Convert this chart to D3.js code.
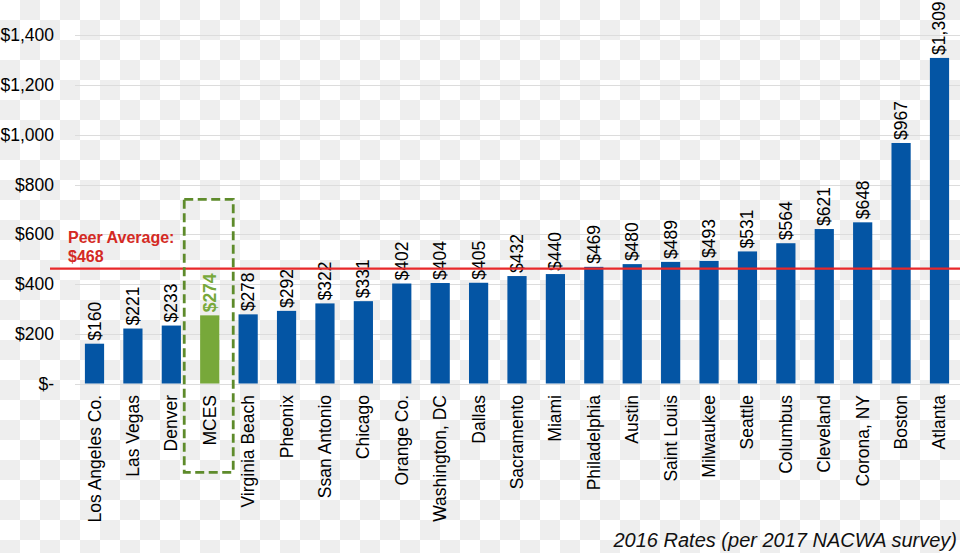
<!DOCTYPE html>
<html>
<head>
<meta charset="utf-8">
<script src="https://cdn.jsdelivr.net/npm/d3@7"></script>
<style>
  html, body { margin: 0; padding: 0; background: #fff; }
  svg { display: block; }
  text { font-family: "Liberation Sans", Arial, sans-serif; }
</style>
</head>
<body>
<svg id="chart" width="960" height="553"></svg>
<script>
// ---- data ----
const categories = ["Los Angeles Co.", "Las Vegas", "Denver", "MCES", "Virginia Beach", "Pheonix",
  "Ssan Antonio", "Chicago", "Orange Co.", "Washington, DC", "Dallas", "Sacramento", "Miami",
  "Philadelphia", "Austin", "Saint Louis", "Milwaukee", "Seattle", "Columbus", "Cleveland",
  "Corona, NY", "Boston", "Atlanta"];
const rates = [160, 221, 233, 274, 278, 292, 322, 331, 402, 404, 405, 432, 440,
  469, 480, 489, 493, 531, 564, 621, 648, 967, 1309];
const yTicks = [0, 200, 400, 600, 800, 1000, 1200, 1400];
const highlight = "MCES";
const peerAverage = 468;
const peerLabel = ["Peer Average:", "$468"];
const footnote = "2016 Rates (per 2017 NACWA survey)";

// ---- setup ----
const W = 960, H = 553;
const svg = d3.select("#chart");

// transparency checkerboard background
const defs = svg.append("defs");
const pat = defs.append("pattern").attr("id", "checker")
  .attr("width", 40).attr("height", 40).attr("patternUnits", "userSpaceOnUse");
pat.append("rect").attr("width", 40).attr("height", 40).attr("fill", "#ffffff");
pat.append("rect").attr("x", 20).attr("y", 0).attr("width", 20).attr("height", 20).attr("fill", "#eeeeee");
pat.append("rect").attr("x", 0).attr("y", 20).attr("width", 20).attr("height", 20).attr("fill", "#eeeeee");
svg.append("rect").attr("width", W).attr("height", H).attr("fill", "url(#checker)");

const x = d3.scaleBand().domain(categories).range([75.3, 958.7])
  .paddingInner(0.5).paddingOuter(0.25);
const y = d3.scaleLinear().domain([0, 1400]).range([383.5, 35.3]);

const fmt = v => v === 0 ? "$-" : "$" + d3.format(",")(v);

// gridlines
svg.append("g").selectAll("line").data(yTicks).join("line")
  .attr("x1", 75).attr("x2", W)
  .attr("y1", d => Math.round(y(d)) + 0.5).attr("y2", d => Math.round(y(d)) + 0.5)
  .attr("stroke", "#dcdcdc").attr("stroke-width", 1);

// y axis labels
const yAxis = d3.axisLeft(y).tickValues(yTicks).tickFormat(fmt).tickSize(0).tickPadding(0);
const gy = svg.append("g").attr("transform", "translate(54,0)").call(yAxis);
gy.select(".domain").remove();
gy.selectAll("text").attr("font-size", "17.5px").attr("fill", "#000")
  .attr("font-family", "'Liberation Sans', Arial, sans-serif");

// bars
svg.append("g").selectAll("rect").data(categories).join("rect")
  .attr("x", d => x(d))
  .attr("y", (d, i) => y(rates[i]))
  .attr("width", x.bandwidth())
  .attr("height", (d, i) => y(0) - y(rates[i]))
  .attr("fill", d => d === highlight ? "#77a83a" : "#0455a4");

// value labels
svg.append("g").selectAll("text").data(categories).join("text")
  .attr("transform", (d, i) => `translate(${x(d) + x.bandwidth() / 2},${y(rates[i]) - 3}) rotate(-90)`)
  .attr("text-anchor", "start")
  .attr("dominant-baseline", "central")
  .attr("font-size", "17.5px")
  .attr("font-weight", d => d === highlight ? "bold" : "normal")
  .attr("fill", d => d === highlight ? "#77a83a" : "#000")
  .text((d, i) => fmt(rates[i]));

// category labels
const xAxis = d3.axisBottom(x).tickSize(0).tickPadding(0);
const gx = svg.append("g").attr("transform", "translate(0,395)").call(xAxis);
gx.select(".domain").remove();
gx.selectAll("text")
  .attr("font-size", "17.5px").attr("fill", "#000")
  .attr("font-family", "'Liberation Sans', Arial, sans-serif")
  .attr("text-anchor", "end")
  .attr("dy", null).attr("y", 0)
  .attr("dominant-baseline", "central")
  .attr("transform", "rotate(-90)");

// peer average line
svg.append("line")
  .attr("x1", 50).attr("x2", 960)
  .attr("y1", y(peerAverage) + 1.5).attr("y2", y(peerAverage) + 1.5)
  .attr("stroke", "#e8282a").attr("stroke-width", 2.2);
svg.append("g").selectAll("text").data(peerLabel).join("text")
  .attr("x", 68).attr("y", (d, i) => 243 + i * 19)
  .attr("font-size", "16px").attr("font-weight", "bold").attr("fill", "#d42a24")
  .text(d => d);

// highlight box around MCES
const cx = x(highlight) + x.bandwidth() / 2;
svg.append("rect")
  .attr("x", cx - 25.5).attr("y", 199.3)
  .attr("width", 49).attr("height", 472.3 - 199.3)
  .attr("fill", "none").attr("stroke", "#5e8b2b")
  .attr("stroke-width", 2.8).attr("stroke-dasharray", "9,4.5");

// footnote
svg.append("text")
  .attr("x", 957).attr("y", 547)
  .attr("text-anchor", "end").attr("font-style", "italic")
  .attr("font-size", "20px").attr("fill", "#111")
  .text(footnote);
</script>
</body>
</html>
